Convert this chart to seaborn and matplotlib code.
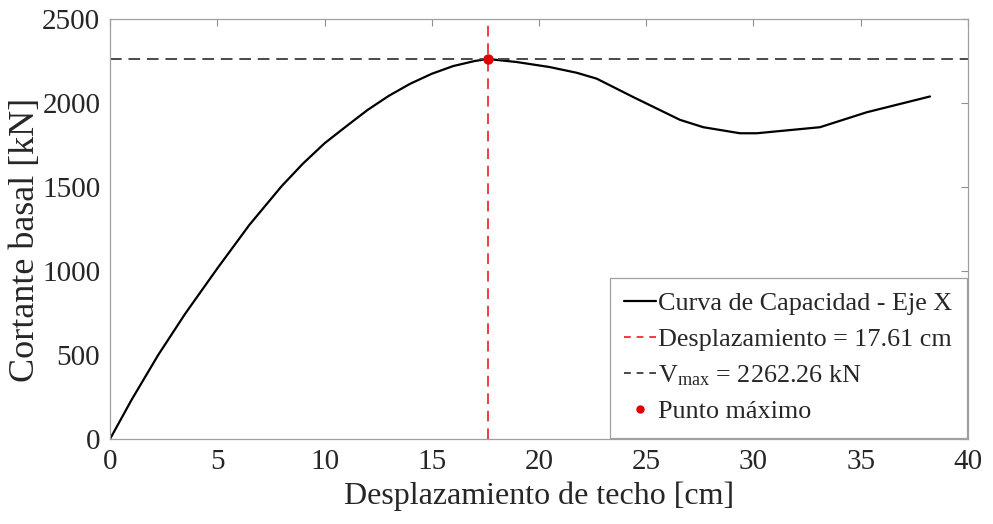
import matplotlib
matplotlib.use("Agg")
import matplotlib.pyplot as plt
import seaborn as sns
import pandas as pd
from matplotlib.lines import Line2D

# Pushover capacity curve, X direction
desplazamiento_cm = [0, 1, 2.25, 3.5, 5, 6.5, 8, 9, 10, 11, 12, 13, 14, 15, 16, 17,
                     17.61, 18.96, 20.5, 21.76, 22.69, 24.4, 26.57, 27.66, 29.37,
                     30.15, 33.1, 35.28, 38.23]
cortante_kN = [0, 232, 501, 745, 1015, 1275, 1505, 1640, 1760, 1860, 1958, 2043,
               2115, 2174, 2220, 2250, 2262.26, 2244, 2214, 2180, 2145, 2035, 1900,
               1856, 1820, 1820, 1856, 1945, 2039]

x_max = 17.61
v_max = 2262.26

x_ticks = [0, 5, 10, 15, 20, 25, 30, 35, 40]
y_ticks = [0, 500, 1000, 1500, 2000, 2500]

sns.set_style("white")
plt.rcParams["font.family"] = ["Liberation Serif", "DejaVu Serif"]
plt.rcParams["mathtext.fontset"] = "custom"
plt.rcParams["mathtext.rm"] = "Liberation Serif"
plt.rcParams["mathtext.it"] = "Liberation Serif:italic"
plt.rcParams["mathtext.default"] = "regular"
plt.rcParams["text.color"] = "#262626"
plt.rcParams["xtick.color"] = "#262626"
plt.rcParams["ytick.color"] = "#262626"
plt.rcParams["axes.labelcolor"] = "#262626"

df = pd.DataFrame({"x": desplazamiento_cm, "v": cortante_kN})

fig = plt.figure(figsize=(9.93, 5.24), dpi=100)
ax = fig.add_axes([0.1108, 0.1622, 0.8640, 0.8015])

sns.lineplot(data=df, x="x", y="v", ax=ax, color="black", linewidth=1.6,
             sort=False, estimator=None)
ax.axvline(x_max, color="#f03c46", linestyle=(0, (5.5, 3.5)), linewidth=1.4)
ax.axhline(v_max, color="#4a4a4a", linestyle=(0, (6, 3.5)), linewidth=1.4)
ax.plot([x_max], [v_max], "o", color="#e00000", markersize=6.5, zorder=5)

ax.set_xlim(0, 40)
ax.set_ylim(0, 2500)
ax.set_xticks(x_ticks)
ax.set_yticks(y_ticks)
ax.tick_params(direction="in", length=5, width=0.8, color="#909090",
               labelsize=21, top=True, right=True, pad=7)
for s in ax.spines.values():
    s.set_color("#a0a0a0")
    s.set_linewidth(0.9)

ax.set_xlabel("Desplazamiento de techo [cm]", fontsize=23, labelpad=5)
ax.set_ylabel("Cortante basal [kN]", fontsize=26)
ax.yaxis.set_label_coords(-0.079, 0.474)

handles = [
    Line2D([], [], color="black", linewidth=1.6),
    Line2D([], [], color="#f03c46", linestyle=(0, (3.5, 3)), linewidth=1.4),
    Line2D([], [], color="#4a4a4a", linestyle=(0, (3.5, 3)), linewidth=1.4),
    Line2D([], [], color="#e00000", marker="o", linestyle="none", markersize=5),
]
labels = [
    "Curva de Capacidad - Eje X",
    "Desplazamiento = 17.61 cm",
    "V$_{max}$ = 2262.26 kN",
    "Punto máximo",
]
leg = ax.legend(handles, labels, loc="lower right", fontsize=18.8,
                frameon=True, fancybox=False, framealpha=1, edgecolor="#a0a0a0",
                handlelength=1.2, handletextpad=0.1, borderaxespad=0.05,
                labelspacing=0.47, borderpad=0.55)
leg.get_frame().set_linewidth(0.9)

fig.savefig("out.png", dpi=100)
